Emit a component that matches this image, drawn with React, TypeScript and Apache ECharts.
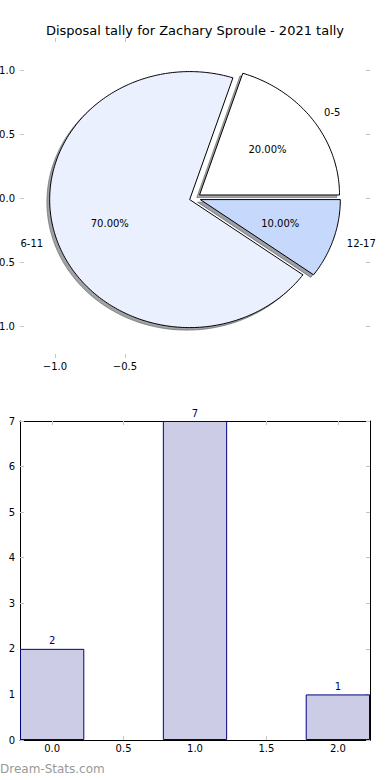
import React, { useEffect, useRef } from "react";
import * as echarts from "echarts";

// ---- data ----
const titleText = "Disposal tally for Zachary Sproule - 2021 tally";
const sliceLabels = ["0-5", "6-11", "12-17"];
const sliceCounts = [2, 7, 1];
const barX = [0, 1, 2];
const barValues = [2, 7, 1];
const pieYTicks = [-1, -0.5, 0, 0.5, 1];
const pieXTicks = [-1, -0.5];
const barXTicks = [0, 0.5, 1, 1.5, 2];
const watermarkText = "Dream-Stats.com";

// ---- style ----
const FONT = "DejaVu Sans";
const TICK = "#c4c4c4";
const sliceColors = ["#ffffff", "#eaf0fd", "#c6d9fd"];
const EXPLODE = 0.04;
const SHADOW_OFF = -0.02;
const BAR_WIDTH_DATA = 0.45;
const PIE_LIM = 1.25;
const BAR_XMIN = -0.225;
const BAR_XMAX = 2.225;
const BAR_GRID_W = 350;

const total = sliceCounts.reduce((a, b) => a + b, 0);
const fmt = (v: number) => v.toFixed(1).replace("-", "\u2212");

function shadowColor(hex: string) {
  const r = parseInt(hex.slice(1, 3), 16);
  const g = parseInt(hex.slice(3, 5), 16);
  const b = parseInt(hex.slice(5, 7), 16);
  return `rgba(${Math.round(r * 0.3)},${Math.round(g * 0.3)},${Math.round(b * 0.3)},0.5)`;
}

function wedgeGeom(api: any, dx: number, dy: number) {
  const i = api.value(3) as number;
  const v = api.value(2) as number;
  const start = sliceCounts.slice(0, i).reduce((a, b) => a + b, 0);
  const t1 = (2 * Math.PI * start) / total;
  const t2 = (2 * Math.PI * (start + v)) / total;
  const mid = (t1 + t2) / 2;
  const ox = EXPLODE * Math.cos(mid) + dx;
  const oy = EXPLODE * Math.sin(mid) + dy;
  const pts: number[][] = [api.coord([ox, oy])];
  const n = Math.max(4, Math.ceil((t2 - t1) / (Math.PI / 180)));
  for (let k = 0; k <= n; k++) {
    const t = t1 + ((t2 - t1) * k) / n;
    pts.push(api.coord([ox + Math.cos(t), oy + Math.sin(t)]));
  }
  return { i, v, mid, ox, oy, pts };
}

export default function App() {
  const ref = useRef<HTMLDivElement>(null);
  useEffect(() => {
    if (!ref.current) return;
    const chart = echarts.init(ref.current, undefined, { renderer: "svg" });
    const pieData = sliceCounts.map((v, i) => ({ value: [0, 0, v, i] }));
    const tickStyle = { lineStyle: { color: TICK, width: 1 }, length: 4, inside: true };
    const option: any = {
      animation: false,
      backgroundColor: "#ffffff",
      title: {
        text: titleText,
        left: "center",
        top: 19,
        textStyle: { fontSize: 13, fontWeight: "normal", fontFamily: FONT, color: "#000" },
      },
      grid: [
        { left: 20, top: 38, width: 350, height: 320, outerBoundsMode: "none", containLabel: false },
        { left: 20, top: 421, width: BAR_GRID_W, height: 319, outerBoundsMode: "none", containLabel: false },
      ],
      xAxis: [
        {
          gridIndex: 0, type: "value", position: "bottom", min: -PIE_LIM, max: PIE_LIM,
          axisLine: { show: false, onZero: false }, splitLine: { show: false },
          axisTick: { show: true, ...tickStyle, customValues: pieXTicks },
          axisLabel: { customValues: pieXTicks, formatter: fmt, margin: 3, fontSize: 10, fontFamily: FONT, color: "#000" },
        },
        {
          gridIndex: 0, type: "value", position: "top", min: -PIE_LIM, max: PIE_LIM,
          axisLine: { show: false, onZero: false }, splitLine: { show: false },
          axisTick: { show: true, ...tickStyle, customValues: pieXTicks },
          axisLabel: { show: false },
        },
        {
          gridIndex: 1, type: "value", position: "bottom", min: BAR_XMIN, max: BAR_XMAX,
          axisLine: { show: true, onZero: false, lineStyle: { color: "#000", width: 1 } }, splitLine: { show: false },
          axisTick: { show: true, ...tickStyle, customValues: barXTicks },
          axisLabel: { customValues: barXTicks, formatter: fmt, margin: 3, fontSize: 10, fontFamily: FONT, color: "#000" },
        },
        {
          gridIndex: 1, type: "value", position: "top", min: BAR_XMIN, max: BAR_XMAX,
          axisLine: { show: true, onZero: false, lineStyle: { color: "#000", width: 1 } }, splitLine: { show: false },
          axisTick: { show: true, ...tickStyle, customValues: barXTicks },
          axisLabel: { show: false },
        },
      ],
      yAxis: [
        {
          gridIndex: 0, type: "value", position: "left", min: -PIE_LIM, max: PIE_LIM,
          axisLine: { show: false, onZero: false }, splitLine: { show: false },
          axisTick: { show: true, ...tickStyle, customValues: pieYTicks },
          axisLabel: { customValues: pieYTicks, formatter: fmt, margin: 5, fontSize: 10, fontFamily: FONT, color: "#000" },
        },
        {
          gridIndex: 0, type: "value", position: "right", min: -PIE_LIM, max: PIE_LIM,
          axisLine: { show: false, onZero: false }, splitLine: { show: false },
          axisTick: { show: true, ...tickStyle, customValues: pieYTicks },
          axisLabel: { show: false },
        },
        {
          gridIndex: 1, type: "value", position: "left", min: 0, max: 7, interval: 1,
          axisLine: { show: true, onZero: false, lineStyle: { color: "#000", width: 1 } }, splitLine: { show: false },
          axisTick: { show: true, ...tickStyle },
          axisLabel: { margin: 5, fontSize: 10, fontFamily: FONT, color: "#000" },
        },
        {
          gridIndex: 1, type: "value", position: "right", min: 0, max: 7, interval: 1,
          axisLine: { show: true, onZero: false, lineStyle: { color: "#000", width: 1 } }, splitLine: { show: false },
          axisTick: { show: true, ...tickStyle },
          axisLabel: { show: false },
        },
      ],
      series: [
        {
          type: "custom", xAxisIndex: 0, yAxisIndex: 0, clip: false, silent: true,
          encode: { x: 0, y: 1 },
          data: pieData,
          renderItem: (params: any, api: any) => {
            const g = wedgeGeom(api, SHADOW_OFF, SHADOW_OFF);
            const c = shadowColor(sliceColors[g.i]);
            return { type: "polygon", shape: { points: g.pts }, style: { fill: c, stroke: c, lineWidth: 1 } };
          },
        },
        {
          type: "custom", xAxisIndex: 0, yAxisIndex: 0, clip: false, silent: true,
          encode: { x: 0, y: 1 },
          data: pieData,
          renderItem: (params: any, api: any) => {
            const g = wedgeGeom(api, 0, 0);
            const lx = g.ox + 1.1 * Math.cos(g.mid);
            const ly = g.oy + 1.1 * Math.sin(g.mid);
            const lp = api.coord([lx, ly]);
            const pp = api.coord([g.ox + 0.6 * Math.cos(g.mid), g.oy + 0.6 * Math.sin(g.mid)]);
            return {
              type: "group",
              children: [
                { type: "polygon", shape: { points: g.pts }, style: { fill: sliceColors[g.i], stroke: "#000", lineWidth: 1 } },
                {
                  type: "text", x: lp[0], y: lp[1],
                  style: { text: sliceLabels[g.i], fill: "#000", fontSize: 10, fontFamily: FONT, align: lx > 0 ? "left" : "right", verticalAlign: "middle" },
                },
                {
                  type: "text", x: pp[0], y: pp[1],
                  style: { text: ((100 * g.v) / total).toFixed(2) + "%", fill: "#000", fontSize: 10, fontFamily: FONT, align: "center", verticalAlign: "middle" },
                },
              ],
            };
          },
        },
        {
          type: "bar", xAxisIndex: 2, yAxisIndex: 2,
          data: barX.map((x, i) => [x, barValues[i]]),
          barWidth: (BAR_WIDTH_DATA * BAR_GRID_W) / (BAR_XMAX - BAR_XMIN),
          itemStyle: { color: "#ccccE6", borderColor: "#000080", borderWidth: 1 },
          label: {
            show: true, position: "top", distance: 3, color: "#000080", fontSize: 10, fontFamily: FONT,
            formatter: (p: any) => String(p.value[1]),
          },
        },
      ],
      graphic: [
        {
          type: "text", left: 0, top: 763,
          style: { text: watermarkText, fill: "#999999", fontSize: 12, fontFamily: FONT },
        },
      ],
    };
    chart.setOption(option);
    return () => chart.dispose();
  }, []);
  return <div ref={ref} style={{ position: "absolute", left: 0, top: 0, width: 390, height: 780 }} />;
}
